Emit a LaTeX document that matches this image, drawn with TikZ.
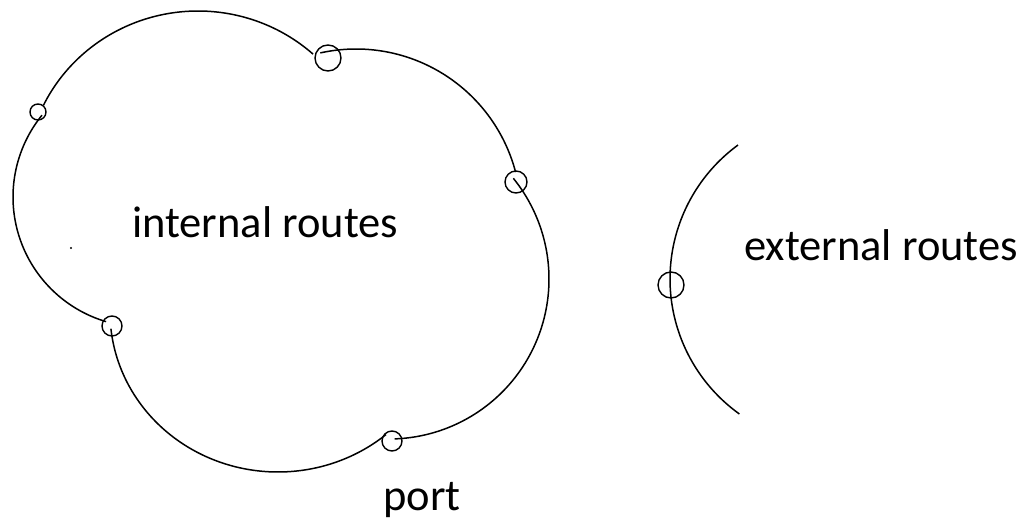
\documentclass[tikz,border=0pt]{standalone}
\usepackage{fontspec}
\setmainfont{Carlito}
\begin{document}
\begin{tikzpicture}[x=1pt,y=-1pt,
  curve/.style={line width=1.5pt, black},
  junction/.style={circle, draw, line width=1.4pt, inner sep=0pt},
  labeltext/.style={font=\fontsize{44.5}{50}\selectfont, inner sep=0pt, anchor=base west, text=black}]
\useasboundingbox (0,0) rectangle (1024,526);
% cloud of internal routes
\draw[curve] plot[domain=-154:-48, samples=80, smooth] ({198+172*cos(\x)},{179+168*sin(\x)});
\draw[curve] plot[domain=-102.5:-14.7, samples=80, smooth] ({356+165*cos(\x)},{214+165*sin(\x)});
\draw[curve] plot[domain=-39:88, samples=80, smooth] ({389+160*cos(\x)},{279+160*sin(\x)});
\draw[curve] plot[domain=50:174, samples=80, smooth] ({278+168*cos(\x)},{312+160*sin(\x)});
\draw[curve] plot[domain=106.5:219, samples=80, smooth] ({143+130*cos(\x)},{197+130*sin(\x)});
% external arc
\draw[curve] plot[domain=125.6:233.8, samples=80, smooth] ({836+166*cos(\x)},{279+166*sin(\x)});
% junction circles
\node[junction, minimum size=16pt] (A) at (38,112) {};
\node[junction, minimum size=26pt] (B) at (328,58) {};
\node[junction, minimum size=22pt] (C) at (516,182) {};
\node[junction, minimum size=20pt] (D) at (112,326) {};
\node[junction, minimum size=20pt] (E) at (392,441) {};
\node[junction, minimum size=26pt] (X) at (671,285) {};
% stray dot
\fill (71,248) circle (1.1pt);
% labels
\node[labeltext] (internal) at (132,238) {internal routes};
\node[labeltext] (external) at (744,261) {external routes};
\node[labeltext] (port) at (383,510) {port};
\end{tikzpicture}
\end{document}
